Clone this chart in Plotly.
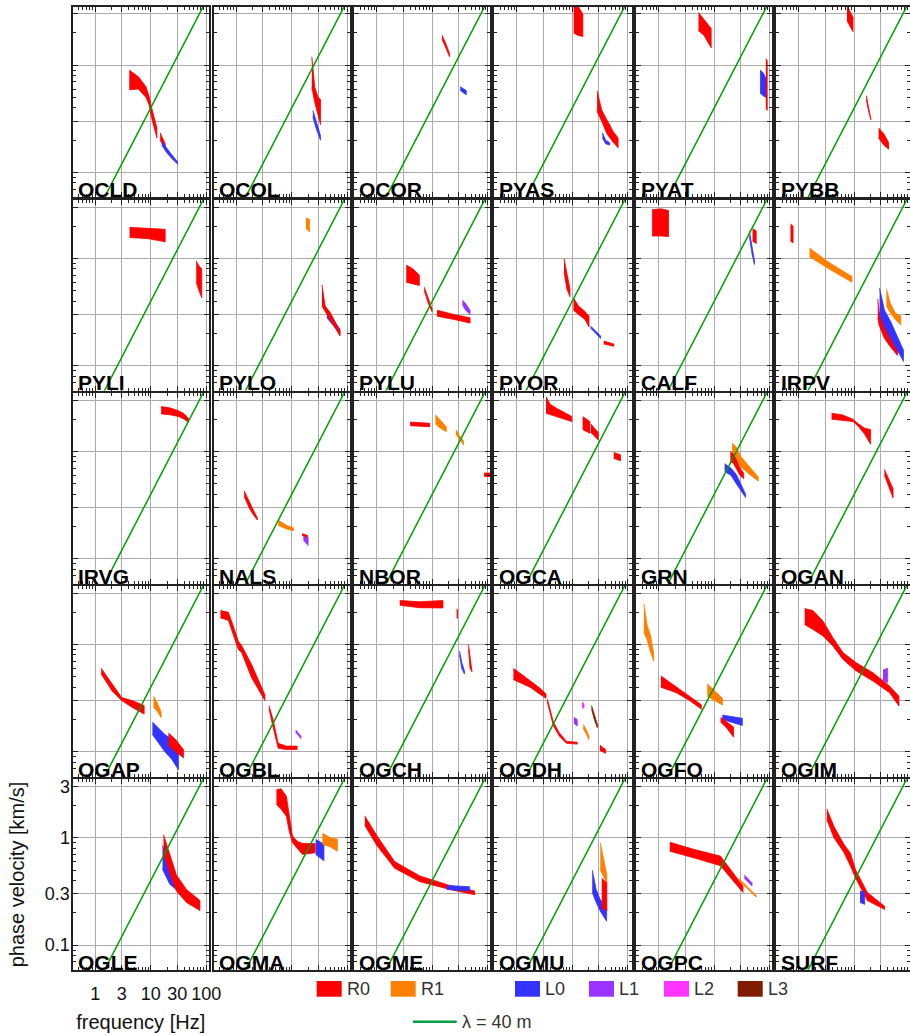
import plotly.graph_objects as go

# ---------------- data ----------------
STATIONS = [
    "OCLD", "OCOL", "OCOR", "PYAS", "PYAT", "PYBB",
    "PYLI", "PYLO", "PYLU", "PYOR", "CALF", "IRPV",
    "IRVG", "NALS", "NBOR", "OGCA", "GRN", "OGAN",
    "OGAP", "OGBL", "OGCH", "OGDH", "OGFO", "OGIM",
    "OGLE", "OGMA", "OGME", "OGMU", "OGPC", "SURF",
]

MODE_NAMES = ["R0", "R1", "L0", "L1", "L2", "L3"]
MODE_COLORS = ["#ff0000", "#ff8000", "#3333ff", "#9933ff", "#ff33ff", "#801a00"]

LAMBDA_M = 40                 # wavelength of the reference line [m]
F_LINE = [0.1, 1000.0]        # frequency span of the reference line [Hz]

X_TICKS = [1, 3, 10, 30, 100]
X_TICK_TEXT = ["1", "3", "10", "30", "100"]
Y_TICKS = [0.1, 0.3, 1, 3]
Y_TICK_TEXT = ["0.1", "0.3", "1", "3"]

# bands: (mode, frequency [Hz], lower velocity [km/s], upper velocity [km/s])
OCLD = [
    ("R0", [4.1, 6.0, 8.2, 9.3, 10.4, 12.9], [0.59, 0.60, 0.50, 0.43, 0.32, 0.21], [0.90, 0.78, 0.63, 0.52, 0.40, 0.26]),
    ("R0", [14.8, 16.5, 18.2], [0.20, 0.18, 0.17], [0.235, 0.21, 0.185]),
    ("L0", [15.8, 19, 23, 30.3], [0.18, 0.155, 0.138, 0.12], [0.195, 0.17, 0.15, 0.126]),
]
OCOL = [
    ("R0", [23, 26, 30, 33], [0.62, 0.45, 0.34, 0.28], [1.2, 0.62, 0.5, 0.48]),
    ("L0", [24, 28, 33], [0.33, 0.25, 0.20], [0.38, 0.29, 0.22]),
]
OCOR = [
    ("R0", [15, 17.5, 20.5], [1.75, 1.45, 1.2], [1.9, 1.6, 1.28]),
    ("L0", [32, 41], [0.58, 0.53], [0.63, 0.58]),
]
PYAS = [
    ("R0", [10.6, 12.5, 15.5], [2.0, 1.9, 1.85], [3.6, 3.6, 3.0]),
    ("R0", [28, 34, 42, 55, 67], [0.37, 0.30, 0.23, 0.19, 0.17], [0.58, 0.38, 0.31, 0.24, 0.21]),
    ("L0", [35, 40, 47], [0.21, 0.185, 0.18], [0.235, 0.20, 0.19]),
]
PYAT = [
    ("R0", [5.2, 6.5, 8.8], [2.1, 1.9, 1.45], [3.1, 2.7, 2.2]),
    ("L0", [67, 76, 86], [0.55, 0.52, 0.50], [0.90, 0.85, 0.75]),
    ("R0", [85, 90], [0.40, 0.38], [1.15, 1.1]),
]
PYBB = [
    ("R0", [7.4, 9.5], [2.6, 2.05], [3.6, 2.8]),
    ("R0", [16.5, 18, 20], [0.48, 0.38, 0.31], [0.52, 0.42, 0.33]),
    ("R0", [27.5, 34, 41.6], [0.21, 0.18, 0.165], [0.26, 0.23, 0.19]),
]
PYLI = [
    ("R0", [4.15, 9, 18.2], [1.57, 1.53, 1.43], [1.95, 1.9, 1.87]),
    ("R0", [66, 74, 83], [0.60, 0.50, 0.43], [0.95, 0.85, 0.80]),
]
PYLO = [
    ("R1", [18, 21], [1.9, 1.77], [2.4, 2.3]),
    ("L0", [43, 55, 74], [0.28, 0.24, 0.20], [0.33, 0.27, 0.22]),
    ("R0", [35, 40, 50, 62, 74], [0.36, 0.32, 0.27, 0.22, 0.19], [0.57, 0.36, 0.31, 0.25, 0.21]),
]
PYLU = [
    ("R0", [3.4, 4.5, 5.85], [0.60, 0.58, 0.56], [0.87, 0.80, 0.70]),
    ("R0", [7.2, 8.5, 9.9], [0.50, 0.38, 0.32], [0.54, 0.42, 0.34]),
    ("R0", [12.2, 25, 48], [0.29, 0.27, 0.25], [0.33, 0.30, 0.28]),
    ("L1", [35, 40, 48], [0.37, 0.33, 0.30], [0.41, 0.38, 0.33]),
]
PYOR = [
    ("R0", [7.1, 8, 9.1], [0.75, 0.52, 0.44], [1.0, 0.72, 0.52]),
    ("R0", [10.5, 13, 17, 20], [0.33, 0.30, 0.27, 0.23], [0.43, 0.36, 0.32, 0.29]),
    ("L0", [21.4, 32.4], [0.225, 0.18], [0.235, 0.19]),
    ("R0", [37, 47, 56], [0.16, 0.155, 0.152], [0.17, 0.165, 0.16]),
]
CALF = [
    ("R0", [0.76, 1.1, 1.5], [1.62, 1.62, 1.6], [2.85, 2.9, 2.8]),
    ("L0", [43, 48, 53], [1.6, 1.1, 0.88], [1.8, 1.3, 0.95]),
    ("R0", [49, 57], [1.45, 1.38], [1.9, 1.8]),
]
IRPV = [
    ("R0", [0.71, 0.79], [1.45, 1.4], [2.1, 2.0]),
    ("R1", [1.56, 3.5, 9.1], [1.04, 0.80, 0.60], [1.25, 0.92, 0.68]),
    ("R0", [26.5, 28, 35, 45, 60], [0.28, 0.24, 0.18, 0.15, 0.125], [0.42, 0.32, 0.25, 0.19, 0.15]),
    ("L0", [28.6, 35, 45, 60, 77], [0.30, 0.23, 0.18, 0.14, 0.11], [0.53, 0.33, 0.26, 0.19, 0.14]),
    ("R1", [38, 45, 55, 69], [0.36, 0.31, 0.27, 0.24], [0.52, 0.38, 0.31, 0.29]),
]
IRVG = [
    ("R0", [15.4, 22, 31.5, 40, 47.7], [2.24, 2.2, 2.12, 2.0, 1.87], [2.62, 2.55, 2.4, 2.25, 2.04]),
]
NALS = [
    ("R0", [1.39, 1.7, 2.0, 2.4], [0.38, 0.30, 0.26, 0.23], [0.43, 0.34, 0.29, 0.24]),
    ("R1", [5.7, 8, 10.7], [0.205, 0.19, 0.183], [0.23, 0.205, 0.195]),
    ("R0", [15.4, 19.2], [0.165, 0.155], [0.172, 0.165]),
    ("L1", [16.2, 19.7], [0.15, 0.133], [0.16, 0.158]),
]
NBOR = [
    ("R0", [4, 9], [1.74, 1.7], [1.88, 1.83]),
    ("R1", [11.4, 14, 17.9], [1.8, 1.65, 1.53], [2.2, 1.95, 1.7]),
    ("R1", [26.7, 31, 36.7], [1.45, 1.3, 1.15], [1.6, 1.4, 1.25]),
    ("R0", [86, 130], [0.585, 0.585], [0.63, 0.63]),
]
OGCA = [
    ("R0", [3.37, 4.0, 5.2, 9.8], [2.27, 2.23, 2.12, 1.9], [3.25, 2.75, 2.53, 2.12]),
    ("R0", [15.4, 20.8], [1.6, 1.48], [2.12, 1.9]),
    ("R0", [21.7, 29.4], [1.5, 1.28], [1.8, 1.5]),
    ("R0", [56, 74], [0.86, 0.82], [0.98, 0.93]),
]
GRN = [
    ("L0", [15.4, 20, 25, 30, 36.7], [0.65, 0.60, 0.50, 0.43, 0.373], [0.77, 0.70, 0.61, 0.50, 0.40]),
    ("R1", [21, 25, 30, 45, 62], [0.95, 0.85, 0.72, 0.60, 0.53], [1.2, 1.1, 0.9, 0.7, 0.58]),
    ("R0", [19.5, 22, 25, 29, 33.8], [0.80, 0.78, 0.68, 0.60, 0.557], [1.0, 0.95, 0.84, 0.70, 0.63]),
]
OGAN = [
    ("R0", [3.9, 6, 9.5, 12, 15.4, 19.7], [2.0, 1.95, 1.9, 1.7, 1.45, 1.17], [2.27, 2.2, 2.0, 1.8, 1.65, 1.6]),
    ("R0", [35, 42, 50], [0.60, 0.46, 0.37], [0.68, 0.55, 0.45]),
]
OGAP = [
    ("R0", [1.28, 2, 3, 4.6, 7.6], [0.53, 0.37, 0.30, 0.26, 0.225], [0.60, 0.43, 0.32, 0.30, 0.27]),
    ("R1", [11.2, 13, 15.4], [0.26, 0.24, 0.208], [0.33, 0.29, 0.235]),
    ("L0", [10.7, 14, 18, 24, 31.5], [0.145, 0.12, 0.10, 0.085, 0.068], [0.19, 0.165, 0.145, 0.13, 0.115]),
    ("R0", [20.8, 28, 38.8], [0.115, 0.10, 0.088], [0.15, 0.13, 0.105]),
]
OGBL = [
    ("R0", [0.52, 0.72, 0.88, 1.09, 1.25, 1.89, 3.28], [1.77, 1.68, 1.24, 0.90, 0.84, 0.49, 0.30], [2.07, 2.0, 1.5, 1.07, 0.98, 0.65, 0.34]),
    ("R0", [3.9, 4.6, 5.7, 8, 12.5], [0.25, 0.17, 0.108, 0.105, 0.105], [0.27, 0.20, 0.12, 0.113, 0.113]),
    ("L1", [11.8, 14.6], [0.152, 0.133], [0.16, 0.14]),
]
OGCH = [
    ("R0", [2.6, 6, 15.6], [2.32, 2.2, 2.19], [2.57, 2.5, 2.57]),
    ("R0", [27.5, 28.5], [1.8, 1.75], [2.15, 2.1]),
    ("L0", [31, 34, 38], [0.80, 0.60, 0.53], [0.87, 0.68, 0.57]),
    ("R0", [45, 48, 52], [0.90, 0.60, 0.557], [1.0, 0.75, 0.60]),
]
OGDH = [
    ("R0", [0.87, 1.74, 2.5, 3.37], [0.47, 0.40, 0.35, 0.315], [0.60, 0.46, 0.40, 0.345]),
    ("R0", [3.56, 4.56, 5.85, 7.9, 12.3], [0.29, 0.175, 0.14, 0.12, 0.118], [0.31, 0.19, 0.15, 0.125, 0.123]),
    ("L1", [10.7, 12.3], [0.185, 0.174], [0.21, 0.20]),
    ("L2", [15, 16.3], [0.26, 0.254], [0.29, 0.28]),
    ("R1", [15.8, 18, 20], [0.165, 0.145, 0.13], [0.18, 0.16, 0.14]),
    ("L3", [22.3, 25, 28.3], [0.25, 0.20, 0.168], [0.27, 0.22, 0.18]),
    ("R0", [31.5, 40], [0.103, 0.097], [0.115, 0.105]),
]
OGFO = [
    ("R1", [0.54, 0.62, 0.7, 0.81], [1.3, 1.1, 0.87, 0.70], [2.4, 1.5, 1.25, 0.84]),
    ("R0", [1.09, 2.08, 3.6, 5.85], [0.40, 0.355, 0.30, 0.25], [0.51, 0.40, 0.33, 0.275]),
    ("R1", [7.5, 10, 14], [0.33, 0.30, 0.273], [0.43, 0.37, 0.315]),
    ("L0", [14, 32], [0.20, 0.176], [0.22, 0.205]),
    ("R0", [13, 17, 22.3], [0.19, 0.165, 0.137], [0.21, 0.19, 0.17]),
]
OGIM = [
    ("R0", [1.28, 1.81, 2.74, 4.15, 6.27, 10.9, 21.7, 43.3, 63.8],
     [1.53, 1.38, 1.2, 0.965, 0.725, 0.565, 0.456, 0.355, 0.267],
     [2.16, 2.07, 1.65, 1.15, 0.84, 0.675, 0.545, 0.41, 0.33]),
    ("L1", [33, 40], [0.46, 0.44], [0.58, 0.60]),
]
OGLE = [
    ("L0", [16.3, 22, 29.4], [0.51, 0.37, 0.326], [0.85, 0.58, 0.41]),
    ("R0", [17, 22, 29, 44, 77], [0.72, 0.47, 0.32, 0.25, 0.21], [1.07, 0.72, 0.45, 0.33, 0.26]),
]
OGMA = [
    ("R0", [5.3, 6.4, 8.0, 9.0, 10.3, 12.5, 15.6, 26.4],
     [2.04, 1.85, 1.59, 1.15, 0.90, 0.80, 0.70, 0.725],
     [2.8, 2.86, 2.44, 1.6, 1.04, 0.93, 0.885, 0.885]),
    ("L0", [27, 38], [0.70, 0.61], [0.97, 0.87]),
    ("R1", [35.7, 50, 66.5], [0.87, 0.82, 0.75], [1.1, 1.0, 0.97]),
]
OGME = [
    ("R0", [0.61, 1.0, 2.1, 6.0, 20.7, 58], [1.3, 0.85, 0.52, 0.39, 0.33, 0.295], [1.6, 1.05, 0.6, 0.44, 0.36, 0.32]),
    ("L0", [18.3, 47], [0.33, 0.32], [0.36, 0.35]),
]
OGMU = [
    ("L0", [22.9, 27, 31.5, 41.6], [0.31, 0.25, 0.21, 0.167], [0.50, 0.33, 0.27, 0.215]),
    ("R1", [32, 42], [0.50, 0.38], [0.90, 0.45]),
    ("R0", [34, 42], [0.22, 0.21], [0.42, 0.38]),
]
OGPC = [
    ("R0", [1.58, 4.26, 12.9, 16.9, 32.9], [0.75, 0.65, 0.55, 0.47, 0.31], [0.91, 0.78, 0.675, 0.565, 0.355]),
    ("R1", [27.5, 40, 57], [0.40, 0.33, 0.28], [0.42, 0.35, 0.29]),
    ("L1", [35, 48], [0.42, 0.355], [0.45, 0.38]),
]
SURF = [
    ("R0", [3.2, 4.3, 6.5, 8.5, 10.6, 17.2, 35.2], [1.48, 1.0, 0.73, 0.55, 0.42, 0.26, 0.215], [1.86, 1.28, 0.87, 0.72, 0.50, 0.31, 0.23]),
    ("L0", [12.7, 15.4], [0.25, 0.24], [0.32, 0.31]),
]

PANEL_BANDS = [
    OCLD, OCOL, OCOR, PYAS, PYAT, PYBB,
    PYLI, PYLO, PYLU, PYOR, CALF, IRPV,
    IRVG, NALS, NBOR, OGCA, GRN, OGAN,
    OGAP, OGBL, OGCH, OGDH, OGFO, OGIM,
    OGLE, OGMA, OGME, OGMU, OGPC, SURF,
]

# ---------------- layout geometry (pixels) ----------------
FIG_W, FIG_H = 910, 1035
COL_LEFT = [72.5, 213.5, 354.0, 494.0, 636.0, 776.0]
COL_WIDTH = [136.5, 136.5, 136.0, 137.5, 135.5, 133.5]
ROW_TOP = [6.7, 200.0, 393.0, 586.0, 779.3]
ROW_HEIGHT = 190.5
PX_PER_DECADE_X = 55.5
LOG_F_MIN = -0.41
LOG_V_RANGE = [-1.23, 0.545]

FONT = "Liberation Sans, Arial, sans-serif"
GRID = "#ababab"
FRAME = "#222222"

color_of = dict(zip(MODE_NAMES, MODE_COLORS))
minor_vals = [m * 10 ** e for e in (-2, -1, 0, 1, 2, 3) for m in range(2, 10)]
minor_x = [v for v in minor_vals if v not in X_TICKS]
minor_y = [v for v in minor_vals if v not in Y_TICKS]

fig = go.Figure()
layout = {}
annotations = []

for i, (name, bands) in enumerate(zip(STATIONS, PANEL_BANDS)):
    r, c = divmod(i, 6)
    n = i + 1
    sfx = "" if n == 1 else str(n)
    xa, ya = "x" + sfx, "y" + sfx
    for mode, f, lo, hi in bands:
        col = color_of[mode]
        fig.add_trace(go.Scatter(
            x=list(f) + list(f)[::-1], y=list(hi) + list(lo)[::-1],
            mode="lines", fill="toself", fillcolor=col,
            line=dict(color=col, width=0.8),
            xaxis=xa, yaxis=ya, showlegend=False, hoverinfo="skip"))
    fig.add_trace(go.Scatter(
        x=F_LINE, y=[fv * LAMBDA_M / 1000.0 for fv in F_LINE],
        mode="lines", line=dict(color="#00a000", width=1.5),
        xaxis=xa, yaxis=ya, showlegend=False, hoverinfo="skip"))

    left, width = COL_LEFT[c], COL_WIDTH[c]
    top = ROW_TOP[r]
    labels = (r == 4 and c == 0)
    common = dict(
        type="log", showgrid=True, gridcolor=GRID, gridwidth=1,
        showline=True, linecolor=FRAME, linewidth=2, mirror="ticks",
        ticks="inside", ticklen=5, tickcolor=FRAME, tickwidth=1,
        zeroline=False, automargin=False, fixedrange=True,
        tickfont=dict(family=FONT, size=18, color="#111111"),
    )
    minor_style = dict(tickmode="array", ticks="inside", ticklen=3, tickcolor=FRAME,
                       showgrid=False)
    layout["xaxis" + sfx] = dict(
        common, domain=[left / FIG_W, (left + width) / FIG_W],
        range=[LOG_F_MIN, LOG_F_MIN + width / PX_PER_DECADE_X],
        anchor=ya, tickmode="array", tickvals=X_TICKS, ticktext=X_TICK_TEXT,
        showticklabels=labels, ticklabelstandoff=7,
        minor=dict(minor_style, tickvals=minor_x),
        title=dict(text="frequency [Hz]" if labels else "",
                   font=dict(family=FONT, size=20, color="#111111"), standoff=12),
    )
    layout["yaxis" + sfx] = dict(
        common, domain=[1 - (top + ROW_HEIGHT) / FIG_H, 1 - top / FIG_H],
        range=LOG_V_RANGE, anchor=xa, tickmode="array", tickvals=Y_TICKS,
        ticktext=Y_TICK_TEXT, showticklabels=labels, ticklabelstandoff=-3,
        minor=dict(minor_style, tickvals=minor_y),
        title=dict(text="phase velocity [km/s]" if labels else "",
                   font=dict(family=FONT, size=20, color="#111111"), standoff=15),
    )
    annotations.append(dict(
        text="<b>%s</b>" % name, xref=xa + " domain", yref=ya + " domain",
        x=0, y=0, xanchor="left", yanchor="bottom", xshift=3, yshift=-6,
        showarrow=False, font=dict(family=FONT, size=21, color="#000000")))

# ---------------- legend (drawn below the panels) ----------------
LEG_X = [316.7, 390.7, 515.0, 589.0, 664.0, 737.7]
LEG_Y_TOP, LEG_Y_BOT, LEG_Y_MID = 981.0, 996.7, 989.0
shapes = []
for x0, mode, col in zip(LEG_X, MODE_NAMES, MODE_COLORS):
    shapes.append(dict(type="rect", xref="paper", yref="paper",
                       x0=x0 / FIG_W, x1=(x0 + 25) / FIG_W,
                       y0=1 - LEG_Y_BOT / FIG_H, y1=1 - LEG_Y_TOP / FIG_H,
                       fillcolor=col, line=dict(width=0)))
    annotations.append(dict(text=mode, xref="paper", yref="paper",
                            x=(x0 + 28) / FIG_W, y=1 - LEG_Y_MID / FIG_H,
                            xanchor="left", yanchor="middle", showarrow=False,
                            font=dict(family=FONT, size=18, color="#333333")))
shapes.append(dict(type="line", xref="paper", yref="paper",
                   x0=413 / FIG_W, x1=456.7 / FIG_W,
                   y0=1 - 1021.7 / FIG_H, y1=1 - 1021.7 / FIG_H,
                   line=dict(color="#00a040", width=2.5)))
annotations.append(dict(text="λ = %d m" % LAMBDA_M, xref="paper", yref="paper",
                        x=460 / FIG_W, y=1 - 1022 / FIG_H, xanchor="left",
                        yanchor="middle", showarrow=False,
                        font=dict(family=FONT, size=18, color="#333333")))

fig.update_layout(
    template="none", width=FIG_W, height=FIG_H,
    margin=dict(l=0, r=0, t=0, b=0, pad=0),
    paper_bgcolor="white", plot_bgcolor="white",
    font=dict(family=FONT, size=18, color="#111111"),
    showlegend=False, annotations=annotations, shapes=shapes,
    **layout)

fig.write_html("out.html", config={"displayModeBar": False},
               post_script="document.body.style.margin='0';document.body.style.overflow='hidden';")
